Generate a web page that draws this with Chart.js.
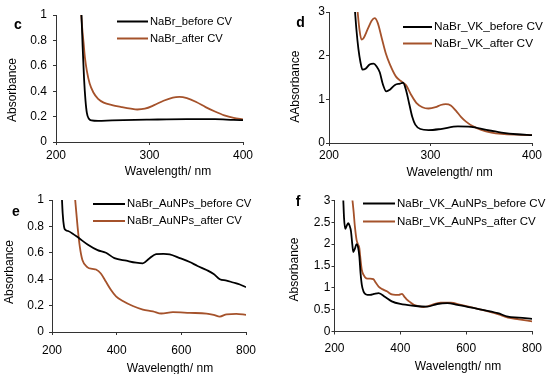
<!DOCTYPE html>
<html>
<head>
<meta charset="utf-8">
<script src="https://cdn.jsdelivr.net/npm/chart.js@4.4.1/dist/chart.umd.min.js"></script>
<style>
  html, body { margin: 0; padding: 0; background: #fff; }
  #wrap { position: relative; width: 550px; height: 374px; overflow: hidden; }
  canvas { position: absolute; }
</style>
</head>
<body>
<div id="wrap">
  <canvas id="pc" width="275" height="187" style="left:0;top:0"></canvas>
  <canvas id="pd" width="275" height="187" style="left:275px;top:0"></canvas>
  <canvas id="pe" width="275" height="187" style="left:0;top:187px"></canvas>
  <canvas id="pf" width="275" height="187" style="left:275px;top:187px"></canvas>
</div>
<script>
// panel c: NaBr
const cLabels = ["NaBr_before CV", "NaBr_after CV"];
const cBeforeX = [227, 228.5, 230, 231.5, 233, 235, 238, 245, 260, 300, 340, 370, 390, 400];
const cBeforeY = [1.05, 0.75, 0.5, 0.33, 0.23, 0.185, 0.17, 0.166, 0.17, 0.176, 0.18, 0.18, 0.174, 0.172];
const cAfterX = [226.5, 228, 229.5, 231, 233, 236, 240, 245, 251, 260, 270, 280, 287, 295, 305, 315, 325, 332, 340, 350, 360, 370, 380, 390, 400];
const cAfterY = [1.05, 0.9, 0.78, 0.66, 0.56, 0.46, 0.39, 0.34, 0.31, 0.29, 0.275, 0.262, 0.256, 0.262, 0.29, 0.325, 0.35, 0.355, 0.345, 0.315, 0.275, 0.24, 0.21, 0.19, 0.178];

// panel d: NaBr + VK
const dLabels = ["NaBr_VK_before CV", "NaBr_VK_after CV"];
const dBeforeX = [225.5, 227, 229, 231, 233, 236, 240, 244, 247, 250, 253, 256.5, 260, 265, 270, 273, 276, 279, 282, 285, 290, 298, 310, 327, 340, 355, 370, 385, 400];
const dBeforeY = [3.05, 2.6, 2.15, 1.85, 1.68, 1.7, 1.8, 1.82, 1.75, 1.62, 1.35, 1.18, 1.22, 1.33, 1.36, 1.38, 1.2, 0.9, 0.6, 0.42, 0.32, 0.295, 0.32, 0.38, 0.37, 0.3, 0.24, 0.2, 0.18];
const dAfterX = [228, 230, 232, 234, 238, 242, 245, 248, 252, 256, 260, 266, 272, 276, 281, 286, 292, 298, 305, 310, 315, 320, 325, 330, 335, 342, 350, 360, 370, 385, 400];
const dAfterY = [3.05, 2.6, 2.37, 2.4, 2.6, 2.8, 2.86, 2.75, 2.4, 2.05, 1.8, 1.52, 1.4, 1.32, 1.1, 0.92, 0.82, 0.79, 0.82, 0.87, 0.89, 0.86, 0.74, 0.6, 0.49, 0.38, 0.3, 0.24, 0.21, 0.19, 0.18];

// panel e: NaBr + AuNPs
const eLabels = ["NaBr_AuNPs_before CV", "NaBr_AuNPs_after CV"];
const eBeforeX = [230, 233, 237, 240, 250, 263, 284, 310, 341, 367, 393, 430, 460, 481, 500, 522, 545, 564, 595, 626, 650, 678, 700, 719, 740, 760, 781, 800];
const eBeforeY = [1.05, 0.9, 0.8, 0.777, 0.765, 0.747, 0.71, 0.663, 0.62, 0.6, 0.56, 0.54, 0.525, 0.52, 0.555, 0.59, 0.592, 0.588, 0.56, 0.53, 0.5, 0.47, 0.44, 0.4, 0.39, 0.375, 0.36, 0.34];
const eAfterX = [270, 279, 286, 294, 310, 325, 336, 351, 367, 382, 398, 419, 450, 481, 512, 538, 574, 626, 678, 700, 719, 740, 770, 800];
const eAfterY = [1.05, 0.8, 0.646, 0.545, 0.49, 0.478, 0.473, 0.443, 0.38, 0.32, 0.27, 0.235, 0.197, 0.17, 0.157, 0.14, 0.15, 0.145, 0.14, 0.13, 0.117, 0.134, 0.137, 0.13];

// panel f: NaBr + VK + AuNPs
const fLabels = ["NaBr_VK_AuNPs_before CV", "NaBr_VK_AuNPs_after CV"];
const fBeforeX = [226.5, 229, 232.7, 237, 242, 246, 250, 254, 257, 262, 267, 271, 275.5, 279, 283, 288, 293, 300, 308, 320, 334, 354, 374, 400, 441, 482, 512, 543, 573, 635, 696, 727, 760, 800];
const fBeforeY = [3.05, 2.6, 2.35, 2.42, 2.48, 2.42, 2.3, 2.0, 1.82, 1.9, 2.0, 1.95, 1.72, 1.35, 1.07, 0.92, 0.86, 0.84, 0.84, 0.86, 0.88, 0.79, 0.69, 0.63, 0.59, 0.57, 0.63, 0.65, 0.61, 0.52, 0.42, 0.34, 0.32, 0.29];
const fAfterX = [254, 258, 262, 267, 271, 275.5, 279, 283, 288, 293, 300, 308, 318, 325, 334, 345, 359, 374, 385, 395, 405, 412, 420, 430, 441, 455, 471, 492, 522, 553, 584, 635, 696, 727, 760, 800];
const fAfterY = [3.05, 2.75, 2.4, 2.1, 2.0, 1.91, 1.65, 1.41, 1.3, 1.24, 1.21, 1.21, 1.2, 1.12, 1.03, 0.97, 0.92, 0.85, 0.84, 0.84, 0.86, 0.8, 0.73, 0.67, 0.61, 0.58, 0.56, 0.6, 0.66, 0.66, 0.61, 0.52, 0.4, 0.32, 0.28, 0.23];

const xTitle = "Wavelength/ nm";

const FONT = '"Liberation Sans", Arial, sans-serif';
const BLACK = "#000000";
const BROWN = "#a5522b";

function pts(xs, ys) {
  return xs.map((x, i) => ({ x: x, y: ys[i] }));
}

// tick labels like "1", "0.8", "2.5" (no trailing zeros)
function fmt(v) {
  return String(Math.round(v * 100) / 100);
}

// overlay: axis titles, legend inside the plot, panel letter (page coords)
function overlay(p) {
  return {
    id: "overlay_" + p.id,
    afterDraw(chart) {
      const ctx = chart.ctx;
      const ox = p.ox, oy = p.oy;
      ctx.save();
      ctx.fillStyle = "#000";
      ctx.font = "12px " + FONT;
      ctx.textAlign = "center";
      ctx.textBaseline = "middle";
      ctx.fillText(xTitle, p.xt[0] - ox, p.xt[1] - oy);
      ctx.save();
      ctx.translate(p.yt[0] - ox, p.yt[1] - oy);
      ctx.rotate(-Math.PI / 2);
      ctx.fillText(p.yTitle, 0, 0);
      ctx.restore();

      ctx.font = p.lsize + "px " + FONT;
      chart.data.datasets.forEach((ds, i) => {
        const y = p.rows[i] - oy;
        ctx.strokeStyle = ds.borderColor;
        ctx.lineWidth = 2;
        ctx.beginPath();
        ctx.moveTo(p.lx[0] - ox, y);
        ctx.lineTo(p.lx[1] - ox, y);
        ctx.stroke();
        ctx.textAlign = "left";
        ctx.fillText(ds.label, p.lx[2] - ox, y);
      });

      ctx.font = "bold 14px " + FONT;
      ctx.textAlign = "center";
      ctx.fillText(p.letter, p.lt[0] - ox, p.lt[1] - oy);
      ctx.restore();
    }
  };
}

function makeChart(p) {
  const w = 275, h = 187;
  new Chart(document.getElementById(p.id), {
    type: "line",
    data: {
      datasets: [
        { label: p.labels[0], data: pts(p.bx, p.by), borderColor: BLACK, borderWidth: 1.8 },
        { label: p.labels[1], data: pts(p.ax, p.ay), borderColor: BROWN, borderWidth: 1.8 }
      ]
    },
    options: {
      responsive: false,
      animation: false,
      elements: {
        point: { radius: 0 },
        line: { tension: 0.4, cubicInterpolationMode: "monotone", fill: false }
      },
      layout: { padding: { left: 0, bottom: 0, top: p.plot.t - p.oy, right: p.ox + w - p.plot.r } },
      plugins: { legend: { display: false }, tooltip: { enabled: false } },
      scales: {
        x: {
          type: "linear",
          min: p.xmin, max: p.xmax,
          ticks: { stepSize: p.xstep, autoSkip: false, maxRotation: 0, color: "#000", padding: p.xpad, font: { family: FONT, size: 12 } },
          grid: { drawOnChartArea: false, drawTicks: true, tickLength: 3, color: "#333" },
          border: { display: true, color: "#333", width: 1 },
          afterFit(s) { s.height = p.oy + h - p.plot.b; }
        },
        y: {
          min: 0, max: p.ymax,
          ticks: { stepSize: p.ystep, autoSkip: false, color: "#000", padding: p.ypad, font: { family: FONT, size: 12 }, callback: fmt },
          grid: { drawOnChartArea: false, drawTicks: true, tickLength: 3, color: "#333" },
          border: { display: true, color: "#333", width: 1 },
          afterFit(s) { s.width = p.plot.l - p.ox; }
        }
      }
    },
    plugins: [overlay(p)]
  });
}

makeChart({
  id: "pc", ox: 0, oy: 0, plot: { l: 56, r: 243, t: 15, b: 142 },
  xmin: 200, xmax: 400, xstep: 100, ymax: 1, ystep: 0.2, xpad: 3, ypad: 6,
  labels: cLabels, bx: cBeforeX, by: cBeforeY, ax: cAfterX, ay: cAfterY,
  yTitle: "Absorbance", yt: [13, 90], xt: [168, 172],
  lx: [117, 148, 150], rows: [21.5, 38.5], lsize: 11.2, letter: "c", lt: [18, 25]
});
makeChart({
  id: "pd", ox: 275, oy: 0, plot: { l: 329, r: 532, t: 12, b: 143 },
  xmin: 200, xmax: 400, xstep: 100, ymax: 3, ystep: 1, xpad: 2, ypad: 1,
  labels: dLabels, bx: dBeforeX, by: dBeforeY, ax: dAfterX, ay: dAfterY,
  yTitle: "AAbsorbance", yt: [295.5, 86.7], xt: [449.7, 173],
  lx: [403, 432, 434], rows: [27, 43.5], lsize: 11.8, letter: "d", lt: [300.5, 23]
});
makeChart({
  id: "pe", ox: 0, oy: 187, plot: { l: 52, r: 246, t: 200, b: 332 },
  xmin: 200, xmax: 800, xstep: 200, ymax: 1, ystep: 0.2, xpad: 8, ypad: 5,
  labels: eLabels, bx: eBeforeX, by: eBeforeY, ax: eAfterX, ay: eAfterY,
  yTitle: "Absorbance", yt: [10, 272], xt: [170, 368.5],
  lx: [93, 125, 127], rows: [204, 221], lsize: 11.3, letter: "e", lt: [16, 212]
});
makeChart({
  id: "pf", ox: 275, oy: 187, plot: { l: 334.5, r: 532, t: 200.5, b: 331.5 },
  xmin: 200, xmax: 800, xstep: 200, ymax: 3, ystep: 0.5, xpad: 7, ypad: 1,
  labels: fLabels, bx: fBeforeX, by: fBeforeY, ax: fAfterX, ay: fAfterY,
  yTitle: "Absorbance", yt: [295, 269.5], xt: [458, 367],
  lx: [363, 395, 397], rows: [203.5, 221.5], lsize: 11.5, letter: "f", lt: [298, 202]
});
</script>
</body>
</html>
